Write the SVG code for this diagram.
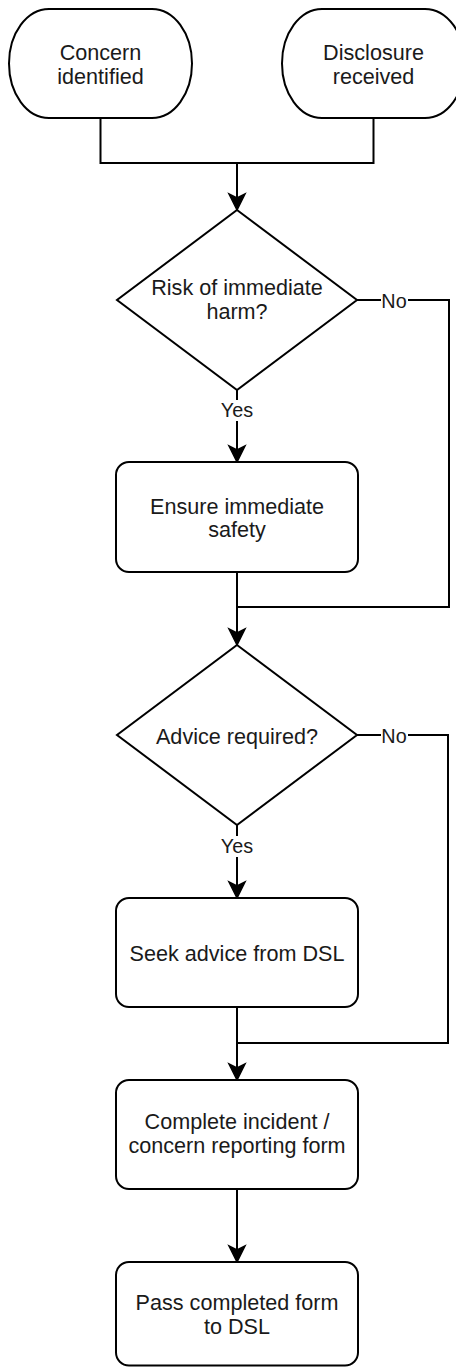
<svg xmlns="http://www.w3.org/2000/svg" width="456" height="1367" viewBox="0 0 456 1367">
<style>
.shape{fill:#fff;stroke:#000;stroke-width:2}
.line{fill:none;stroke:#000;stroke-width:2}
.arrow{fill:#000;stroke:#000;stroke-width:1.5;stroke-linejoin:miter}
.t{font-family:"Liberation Sans",Arial,sans-serif;font-size:21.6px;fill:#1a1a1a;text-anchor:middle}
.lbl{font-family:"Liberation Sans",Arial,sans-serif;font-size:19.8px;fill:#1a1a1a;text-anchor:middle}
.bg{fill:#fff;stroke:none}
</style>
<rect width="456" height="1367" fill="#fff"/>
<g id="connectors">
<path class="line" d="M100.5,118 V163 H237"/>
<path class="line" d="M373.5,118 V163 H237"/>
<path class="line" d="M237,163 V200"/>
<polygon class="arrow" points="237,210 229,194 237,198 245,194"/>
<path class="line" d="M357,300 H449 V607 H237"/>
<path class="line" d="M237,390 V452"/>
<polygon class="arrow" points="237,462 229,446 237,450 245,446"/>
<path class="line" d="M237,572 V635"/>
<polygon class="arrow" points="237,645 229,629 237,633 245,629"/>
<path class="line" d="M357,735 H448 V1043 H237"/>
<path class="line" d="M237,825 V888"/>
<polygon class="arrow" points="237,898 229,882 237,886 245,882"/>
<path class="line" d="M237,1007 V1070"/>
<polygon class="arrow" points="237,1080 229,1064 237,1068 245,1064"/>
<path class="line" d="M237,1189 V1252"/>
<polygon class="arrow" points="237,1262 229,1246 237,1250 245,1246"/>
<g id="label-no-1"><rect class="bg" x="381" y="291" width="27" height="20"/><text class="lbl" x="394" y="308">No</text></g>
<g id="label-yes-1"><rect class="bg" x="219" y="400" width="36" height="21"/><text class="lbl" x="237" y="417">Yes</text></g>
<g id="label-no-2"><rect class="bg" x="381" y="726" width="27" height="20"/><text class="lbl" x="394" y="743">No</text></g>
<g id="label-yes-2"><rect class="bg" x="219" y="836" width="36" height="21"/><text class="lbl" x="237" y="853">Yes</text></g>
</g>
<g id="concern-identified">
<rect class="shape" x="9" y="9" width="183" height="109" rx="40" ry="54.5"/>
<text class="t" x="100.5" y="59.5">Concern</text>
<text class="t" x="100.5" y="83.5">identified</text>
</g>
<g id="disclosure-received">
<rect class="shape" x="282" y="9" width="183" height="109" rx="40" ry="54.5"/>
<text class="t" x="373.5" y="59.5">Disclosure</text>
<text class="t" x="373.5" y="83.5">received</text>
</g>
<g id="risk-of-harm">
<polygon class="shape" points="237,210 357,300 237,390 117,300"/>
<text class="t" x="237" y="295">Risk of immediate</text>
<text class="t" x="237" y="318.5">harm?</text>
</g>
<g id="ensure-safety">
<rect class="shape" x="116" y="462" width="242" height="110" rx="13"/>
<text class="t" x="237" y="513.5">Ensure immediate</text>
<text class="t" x="237" y="537">safety</text>
</g>
<g id="advice-required">
<polygon class="shape" points="237,645 357,735 237,825 117,735"/>
<text class="t" x="237" y="744">Advice required?</text>
</g>
<g id="seek-advice">
<rect class="shape" x="116" y="898" width="242" height="109" rx="13"/>
<text class="t" x="237" y="960.5">Seek advice from DSL</text>
</g>
<g id="complete-form">
<rect class="shape" x="116" y="1080" width="242" height="109" rx="13"/>
<text class="t" x="237" y="1128.5">Complete incident /</text>
<text class="t" x="237" y="1153">concern reporting form</text>
</g>
<g id="pass-form">
<rect class="shape" x="116" y="1262" width="242" height="103.5" rx="13"/>
<text class="t" x="237" y="1309.5">Pass completed form</text>
<text class="t" x="237" y="1334">to DSL</text>
</g>
</svg>
